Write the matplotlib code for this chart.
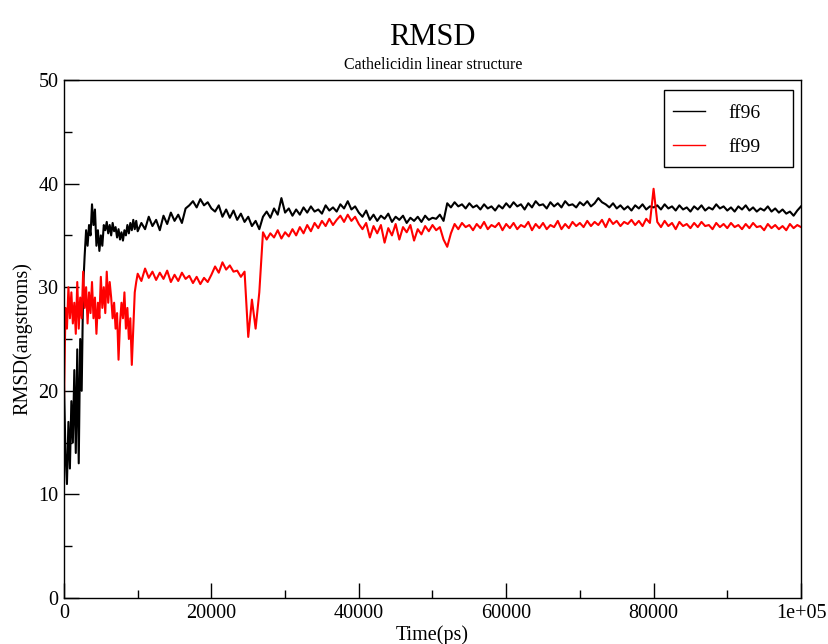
import numpy as np
import matplotlib
matplotlib.use("Agg")
import matplotlib.pyplot as plt
from matplotlib.patches import Rectangle

plt.rcParams['font.family'] = ['Liberation Serif', 'DejaVu Serif']

# sampling times (ps): finer in the first 10 ns
t_early = np.arange(0, 10000, 200)
t_late = np.arange(10000, 100001, 500)
time_ps = np.concatenate([t_early, t_late])

ff96_early = [20.5, 14, 11, 17, 12.5, 19, 15, 22, 14, 24,
              13, 25, 20, 30, 33, 35.5, 34, 36, 35, 38,
              36, 37.5, 34, 35.5, 33.5, 35, 34, 36, 35.5, 36.3,
              35.2, 36, 35, 36.2, 35.4, 35.8, 34.8, 35.6, 34.6, 35.3,
              34.5, 35.5, 35, 36, 35.2, 36.2, 35.5, 36.5, 35.6, 36.4]
ff96_late = [35.4, 36.2, 35.6, 36.8, 35.9, 36.5, 35.5, 36.9, 36.1, 37.2, 36.4, 37.0, 36.2, 37.6, 37.9,
             38.3, 37.7, 38.5, 37.9, 38.2, 37.6,
             37.3, 37.9, 36.8, 37.5, 36.7, 37.4,
             36.5, 37.1, 36.3, 36.8, 35.9, 36.4, 35.6,
             36.8, 37.3, 36.7, 37.6, 37.0, 38.6, 37.2,
             37.6, 36.9, 37.5, 37.0, 37.7, 37.2, 37.8, 37.3, 37.5, 37.1, 37.9, 37.4, 37.7, 37.3,
             38.0, 37.6, 38.3, 37.5, 37.8, 37.2,
             36.8, 37.4, 36.5, 37.0, 36.4, 36.9, 36.6, 37.1, 36.3, 36.8,
             36.5, 36.9, 36.2, 36.7, 36.4, 36.8, 36.3, 36.9, 36.5, 36.7,
             36.6, 37.0, 36.4,
             38.1, 37.7, 38.2, 37.8, 38.0, 37.6, 38.1, 37.7, 37.9, 37.5, 38.0, 37.6, 37.8, 37.4, 37.9, 37.6, 38.1,
             37.7, 38.2, 37.8, 38.0, 37.5, 38.1, 37.7, 38.3, 37.9, 38.0,
             37.6, 38.2, 37.8, 38.1, 37.7, 38.3, 37.9, 38.0, 37.7, 38.2,
             37.9, 38.3, 37.8, 38.1, 38.6, 38.2, 38.0, 37.7, 38.1, 37.6,
             37.9, 37.5, 37.8, 37.4, 37.9, 37.6, 38.0, 37.5, 37.8, 37.7,
             37.9, 37.5, 38.0, 37.6, 37.8, 37.4, 37.9, 37.5, 37.7, 37.3,
             37.8, 37.5, 37.9, 37.4, 37.7, 37.5, 38.0, 37.6, 37.8, 37.4,
             37.7, 37.3, 37.8, 37.5, 37.9, 37.4, 37.7, 37.3, 37.6, 37.4,
             37.8, 37.3, 37.6, 37.2, 37.5, 37.1, 37.3, 36.9, 37.4, 37.8]

ff99_early = [19, 28, 26, 30, 27, 29.5, 26.5, 28.5, 25.5, 30.5,
              26, 29, 27, 31.5, 28, 30, 26.5, 29.5, 27.5, 30.5,
              27, 29, 25.5, 28.5, 27, 31, 28, 30, 27.5, 31.5,
              28.5, 30.5, 29, 27, 28.5, 26, 27.5, 23, 26.5, 28.5,
              27, 29.5, 26, 28, 25, 27, 22.5, 26, 29.5, 30.5]
ff99_late = [31.3, 30.6, 31.8, 30.9, 31.5, 30.7, 31.4, 30.8, 31.6, 30.5, 31.2, 30.6, 31.4, 30.8, 31.1,
             30.4, 31.0, 30.3, 30.9, 30.5, 31.2,
             32.0, 31.4, 32.4, 31.7, 32.1, 31.5,
             31.6, 31.0, 31.5, 25.2, 28.8, 26.0, 29.5,
             35.3, 34.6, 35.2, 34.8, 35.5, 34.7, 35.3,
             34.9, 35.6, 35.0, 35.8, 35.2, 36.0, 35.4, 36.2, 35.7, 36.4, 35.9, 36.6, 36.0, 36.5,
             36.9, 36.3, 37.0, 36.4, 36.8, 36.1,
             35.6, 36.2, 34.8, 35.9, 35.2, 36.0, 34.3, 35.7, 35.0, 36.1,
             34.6, 35.8, 35.3, 36.0, 34.5, 35.6, 35.1, 35.9, 35.4, 36.0,
             35.5, 35.8, 34.6,
             33.9, 35.2, 36.1, 35.6, 36.2, 35.8, 36.0, 35.5, 36.1, 35.7, 36.3, 35.6, 36.0, 35.8, 36.2, 35.5, 36.1,
             35.7, 36.2, 35.6, 36.0, 35.8, 36.3, 35.5, 36.1, 35.7, 36.2,
             35.6, 36.0, 35.8, 36.4, 35.6, 36.1, 35.7, 36.3, 35.9, 36.2,
             35.8, 36.4, 35.9, 36.3, 36.0, 36.5, 35.8, 36.6, 36.1, 36.4,
             35.9, 36.3, 36.1, 36.5, 36.0, 36.4, 35.9, 36.6, 36.2, 39.5,
             36.3, 35.8, 36.4, 35.9, 36.2, 35.6, 36.3, 35.9, 36.1, 35.7,
             36.2, 35.8, 36.3, 35.9, 36.0, 35.6, 36.2, 35.8, 36.1, 35.7,
             36.2, 35.8, 36.0, 35.6, 36.1, 35.7, 36.2, 35.8, 35.9, 35.5,
             36.1, 35.7, 36.0, 35.6, 35.9, 35.5, 36.1, 35.7, 36.0, 35.8]

ff96 = np.array(ff96_early + ff96_late)
ff99 = np.array(ff99_early + ff99_late)

x_ticks = [0, 20000, 40000, 60000, 80000, 100000]
x_labels = ['0', '20000', '40000', '60000', '80000', '1e+05']
y_ticks = [0, 10, 20, 30, 40, 50]

fig = plt.figure(figsize=(8.29, 6.44), dpi=100)
ax = fig.add_axes([0.0772, 0.0714, 0.889, 0.8044])

ax.plot(time_ps, ff96, color='black', lw=1.5, label='ff96')
ax.plot(time_ps, ff99, color='red', lw=1.5, label='ff99')

ax.set_xlim(0, 100000)
ax.set_ylim(0, 50)
ax.set_xticks(x_ticks)
ax.set_xticklabels(x_labels)
ax.set_xticks(np.arange(10000, 100000, 20000), minor=True)
ax.set_yticks(y_ticks)
ax.set_yticks(np.arange(5, 50, 10), minor=True)
ax.tick_params(which='both', direction='in', top=False, right=False, labelsize=14.5, pad=4)
ax.tick_params(which='major', length=11, width=1)
ax.tick_params(which='minor', length=6, width=1)
for s in ax.spines.values():
    s.set_linewidth(1.0)

ax.set_xlabel('Time(ps)', fontsize=14.5, labelpad=2)
ax.set_ylabel('RMSD(angstroms)', fontsize=14.5, labelpad=4)

fig.text(0.522, 0.941, 'RMSD', ha='center', va='center', fontsize=22)
fig.text(0.522, 0.899, 'Cathelicidin linear structure', ha='center', va='center', fontsize=11.5)

# legend box drawn separately (xmgrace style, extra room on the right)
ax.add_patch(Rectangle((0.814, 0.832), 0.175, 0.149, transform=ax.transAxes,
                       fill=False, ec='black', lw=1.0, zorder=5))
leg = ax.legend(loc='upper left', bbox_to_anchor=(0.826, 0.953), fontsize=14,
                frameon=False, handlelength=1.65, handletextpad=1.2,
                labelspacing=0.85, borderpad=0, borderaxespad=0)
for h in leg.get_lines():
    h.set_linewidth(1.0)

fig.savefig('out.png', dpi=100)
